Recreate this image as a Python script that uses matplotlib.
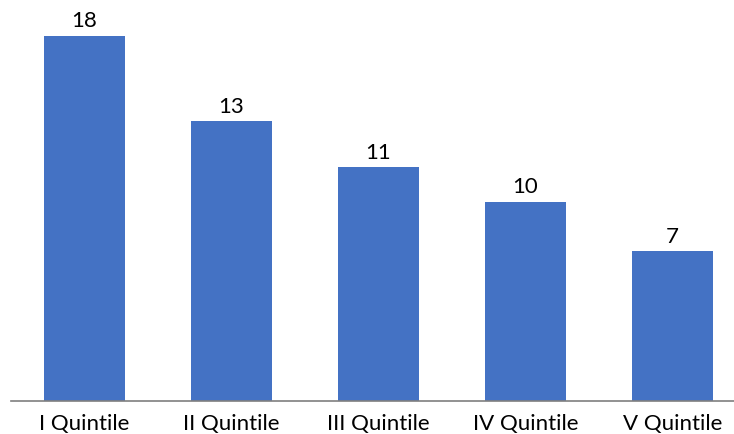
import matplotlib
matplotlib.use('Agg')
import matplotlib.pyplot as plt

categories = ['I Quintile', 'II Quintile', 'III Quintile', 'IV Quintile', 'V Quintile']
values = [17.57, 13.45, 11.23, 9.59, 7.20]

plt.rcParams['font.family'] = ['Lato', 'DejaVu Sans']

fig = plt.figure(figsize=(7.34, 4.35), dpi=100)
# plot area runs slightly past the right edge (image was cropped)
ax = fig.add_axes([10.7 / 734, 33.5 / 435, 735.5 / 734, 401.5 / 435])

x = range(len(categories))
bars = ax.bar(x, values, width=0.55, color='#4472C4')
ax.set_xlim(-0.5, 4.5)
ax.set_ylim(0, 401.5 / 20.75)

for b, v in zip(bars, values):
    ax.annotate('{:.0f}'.format(v), (b.get_x() + b.get_width() / 2, v),
                xytext=(0, 4), textcoords='offset points',
                ha='center', va='bottom', fontsize=16, color='black')

ax.set_xticks(list(x))
ax.set_xticklabels(categories, fontsize=16)
ax.tick_params(axis='x', length=0, pad=9)
ax.set_yticks([])
for s in ['top', 'right', 'left']:
    ax.spines[s].set_visible(False)
ax.spines['bottom'].set_color('#7f7f7f')
ax.spines['bottom'].set_linewidth(1.2)

fig.savefig('out.png', dpi=100)
